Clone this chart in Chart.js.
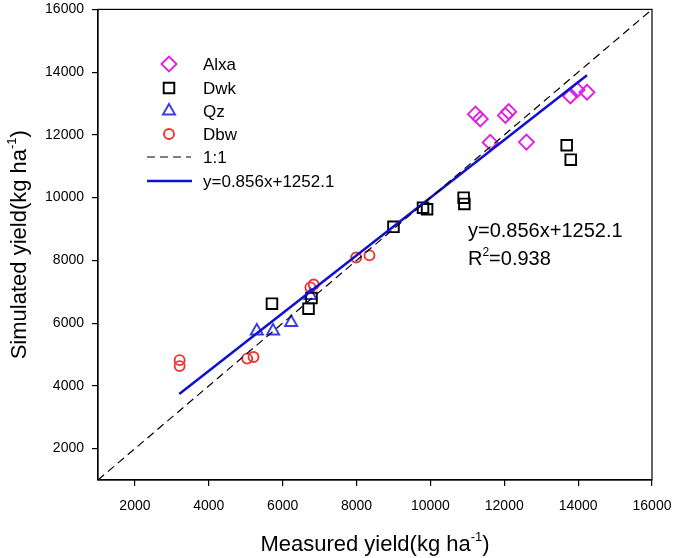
<!DOCTYPE html>
<html>
<head>
<meta charset="utf-8">
<script src="https://cdn.jsdelivr.net/npm/chart.js@4"></script>
<style>
  html, body { margin: 0; padding: 0; background: #fff; }
  #wrap { width: 675px; height: 558px; }
</style>
</head>
<body>
<div id="wrap"><canvas id="chart" width="675" height="558"></canvas></div>
<script>
const xTicks = [2000, 4000, 6000, 8000, 10000, 12000, 14000, 16000];
const yTicks = [2000, 4000, 6000, 8000, 10000, 12000, 14000, 16000];

const alxaX = [11220, 11350, 12030, 12120, 11620, 12600, 13790, 13970, 14240];
const alxaY = [12660, 12510, 12620, 12740, 11760, 11770, 13240, 13430, 13360];
const dwkX = [5710, 6700, 6780, 9000, 9800, 9910, 10900, 10920, 13690, 13800];
const dwkY = [6620, 6460, 6800, 9070, 9680, 9630, 10000, 9800, 11670, 11210];
const qzX = [5300, 5740, 6230, 6750];
const qzY = [5750, 5750, 6020, 6880];
const dbwX = [3210, 3210, 5040, 5210, 6750, 6840, 7990, 8350];
const dbwY = [4820, 4630, 4870, 4920, 7140, 7230, 8090, 8160];

const oneX = [1000, 16000];
const oneY = [1000, 16000];
const fitX = [3200, 14240];
const fitY = [3740, 13900];

const FONT = "'Liberation Sans', Arial, sans-serif";

const pts = (xs, ys) => xs.map((x, i) => ({ x: x, y: ys[i] }));

const series = [
  { label: "Alxa", style: "rectRot", color: "#e020e0", r: 7.5 },
  { label: "Dwk", style: "rect", color: "#000000", r: 7.5 },
  { label: "Qz", style: "triangle", color: "#3c3ce6", r: 7 },
  { label: "Dbw", style: "circle", color: "#ec3434", r: 5 },
];
const seriesData = [pts(alxaX, alxaY), pts(dwkX, dwkY), pts(qzX, qzY), pts(dbwX, dbwY)];
const MARK_W = 1.9;

function drawMarker(ctx, s, x, y) {
  Chart.helpers.drawPoint(ctx, {
    pointStyle: s.style, radius: s.r, rotation: 0, borderWidth: MARK_W
  }, x, y);
}

function drawParts(ctx, parts, x, y, align) {
  let w = 0;
  parts.forEach(p => { ctx.font = p.s + "px " + FONT; w += ctx.measureText(p.t).width; });
  let cx = align === "center" ? x - w / 2 : x;
  parts.forEach(p => {
    ctx.font = p.s + "px " + FONT;
    ctx.fillText(p.t, cx, y + (p.dy || 0));
    cx += ctx.measureText(p.t).width;
  });
}

const decor = {
  id: "decor",
  afterDraw(chart) {
    const ctx = chart.ctx;
    const a = chart.chartArea;
    ctx.save();
    ctx.strokeStyle = "#000";
    ctx.lineWidth = 1.2;
    ctx.strokeRect(a.left, a.top, a.right - a.left, a.bottom - a.top);

    // legend
    const ly = [64, 88, 111, 134];
    ctx.textBaseline = "middle";
    ctx.textAlign = "left";
    series.forEach((s, i) => {
      ctx.strokeStyle = s.color;
      ctx.fillStyle = "rgba(0,0,0,0)";
      ctx.lineWidth = MARK_W;
      drawMarker(ctx, s, 169, ly[i]);
      ctx.fillStyle = "#000";
      ctx.font = "17px " + FONT;
      ctx.fillText(s.label, 203, ly[i] + 1);
    });
    ctx.beginPath();
    ctx.setLineDash([8, 5]);
    ctx.strokeStyle = "#000";
    ctx.lineWidth = 1.2;
    ctx.moveTo(147, 157); ctx.lineTo(191, 157);
    ctx.stroke();
    ctx.setLineDash([]);
    ctx.beginPath();
    ctx.strokeStyle = "#1010d0";
    ctx.lineWidth = 2.5;
    ctx.moveTo(147, 181); ctx.lineTo(192, 181);
    ctx.stroke();
    ctx.fillStyle = "#000";
    ctx.font = "17px " + FONT;
    ctx.fillText("1:1", 203, 158);
    ctx.fillText("y=0.856x+1252.1", 203, 182);

    // equation
    ctx.textBaseline = "alphabetic";
    ctx.font = "20px " + FONT;
    ctx.fillText("y=0.856x+1252.1", 468, 237);
    drawParts(ctx, [{ t: "R", s: 20 }, { t: "2", s: 12, dy: -9 }, { t: "=0.938", s: 20 }], 468, 265, "left");

    // axis titles
    drawParts(ctx, [{ t: "Measured yield(kg ha", s: 22 }, { t: "-1", s: 13, dy: -10 }, { t: ")", s: 22 }],
      (a.left + a.right) / 2, 551, "center");
    ctx.translate(26, (a.top + a.bottom) / 2);
    ctx.rotate(-Math.PI / 2);
    drawParts(ctx, [{ t: "Simulated yield(kg ha", s: 22 }, { t: "-1", s: 13, dy: -10 }, { t: ")", s: 22 }],
      0, 0, "center");
    ctx.restore();
  }
};

const datasets = [
  {
    label: "1:1", data: pts(oneX, oneY), showLine: true, pointRadius: 0,
    borderColor: "#000", borderWidth: 1.2, borderDash: [8, 5], order: 0
  },
  {
    label: "fit", data: pts(fitX, fitY), showLine: true, pointRadius: 0,
    borderColor: "#1010d0", borderWidth: 2.5, order: 0
  },
];
series.forEach((s, i) => {
  datasets.push({
    label: s.label, data: seriesData[i], pointStyle: s.style, pointRadius: s.r,
    pointHoverRadius: s.r, borderColor: s.color, backgroundColor: "rgba(0,0,0,0)",
    pointBorderWidth: MARK_W, showLine: false, order: 1
  });
});

const axisCommon = {
  type: "linear", min: 1000, max: 16000,
  grid: { drawOnChartArea: false, drawTicks: true, tickLength: 6, color: "#000", lineWidth: 1.2 },
  border: { display: true, color: "#000", width: 1.2 },
};

new Chart(document.getElementById("chart"), {
  type: "scatter",
  data: { datasets },
  options: {
    responsive: false,
    animation: false,
    layout: { padding: { top: 7, right: 23, left: 0, bottom: 0 } },
    plugins: { legend: { display: false }, tooltip: { enabled: false } },
    scales: {
      x: {
        ...axisCommon,
        afterBuildTicks: s => { s.ticks = xTicks.map(v => ({ value: v })); },
        afterFit: s => { s.height = 78; s.paddingLeft = 0; s.paddingRight = 0; },
        ticks: {
          color: "#000", padding: 12, maxRotation: 0, font: { family: FONT, size: 14 },
          callback: v => String(v)
        },
      },
      y: {
        ...axisCommon,
        afterBuildTicks: s => { s.ticks = yTicks.map(v => ({ value: v })); },
        afterFit: s => { s.width = 98; s.paddingTop = 0; s.paddingBottom = 0; },
        ticks: {
          color: "#000", padding: 8, font: { family: FONT, size: 14 },
          callback: v => String(v)
        },
      },
    },
  },
  plugins: [decor],
});
</script>
</body>
</html>
